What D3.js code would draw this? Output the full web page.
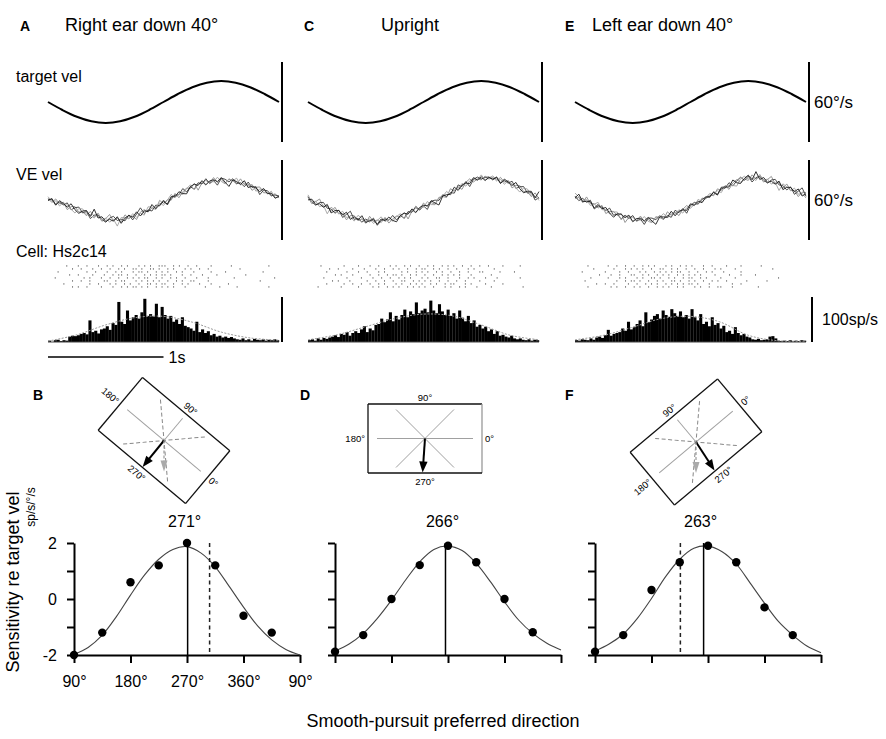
<!DOCTYPE html>
<html>
<head>
<meta charset="utf-8">
<script src="https://d3js.org/d3.v7.min.js"></script>
<style>
  body { margin: 0; background: #fff; }
  text { font-family: "Liberation Sans", Arial, Helvetica, sans-serif; fill: #000; }
</style>
</head>
<body>
<svg id="fig" width="886" height="739"></svg>
<script>
// ---- data ----
const panelTitles = ["Right ear down 40°", "Upright", "Left ear down 40°"];
const topLetters = ["A", "C", "E"];
const bottomLetters = ["B", "D", "F"];

// stimulus / eye velocity (deg/s), sampled every 0.125 s over 2 s
const timeS = [0, 0.125, 0.25, 0.375, 0.5, 0.625, 0.75, 0.875, 1, 1.125, 1.25, 1.375, 1.5, 1.625, 1.75, 1.875, 2];
const targetVel = [0, -6, -11.1, -14.5, -15.7, -14.5, -11.1, -6, 0, 6, 11.1, 14.5, 15.7, 14.5, 11.1, 6, 0];
const eyeVelA = [0.5, -3, -7.5, -11.3, -14.5, -15, -12, -7.5, -2.3, 3.8, 10, 13.3, 15, 13.7, 10.5, 6.2, 2];
const eyeVelC = [0.8, -4, -9, -13, -15.5, -16, -14, -10, -5, 0, 6, 13, 16.5, 16, 12.5, 7, 1.3];
const eyeVelE = [2.5, -2, -7, -11.5, -14.5, -15, -13.5, -10, -5, 1, 7, 12.5, 16.5, 16, 12.5, 7.5, 3.8];

// trial-to-trial scatter of the individual eye traces (deg/s), 1/30 s apart
const traceDev1 = [0.5,-0.8,1.2,-0.3,0.9,-1.5,0.4,1.1,-0.6,0.2, -1.0,1.4,-0.2,0.7,-1.3,0.3,2.1,-0.5,0.8,-0.9,
  1.6,-0.4,0.2,-1.8,0.6,1.0,-0.7,0.3,-1.1,1.9, -0.2,0.5,-0.6,1.3,-1.4,0.1,0.8,-0.3,1.1,-2.2,
  0.4,0.9,-0.5,1.5,-0.8,0.2,-1.2,0.7,0.3,-0.9, 1.8,-0.1,0.6,-1.5,0.4,1.2,-0.6,0.1,-0.8,0.9, -0.3];
const traceDev2 = [-0.6,0.9,-1.1,0.4,-0.2,1.3,-0.9,0.6,1.5,-0.4, 0.8,-1.6,0.3,1.0,-0.5,-1.2,0.6,1.4,-0.3,0.2,
  -0.9,1.1,-1.4,0.5,2.4,-0.6,0.2,-1.0,0.7,-0.4, 1.2,-1.7,0.3,0.6,-0.2,1.5,-0.8,0.4,-1.3,0.9,
  -0.1,1.6,-0.7,0.3,-1.9,0.8,0.5,-0.4,1.1,-0.6, 0.2,-1.0,1.4,-0.3,0.7,-2.0,0.5,0.9,-0.4,0.3, 0.6];
const traceDev3 = [1.1,-0.3,0.4,-1.2,0.8,0.2,-0.7,-1.6,0.9,1.3, -0.4,0.1,-0.9,1.7,-0.6,0.5,-1.1,0.2,-2.6,0.9,
  0.4,-0.5,1.2,-0.8,0.1,-1.3,1.5,0.6,-0.2,0.8, -1.0,0.3,1.8,-0.5,0.2,-0.9,0.6,1.2,-1.5,0.4,
  0.7,-1.1,0.2,-0.3,1.4,-0.6,-1.4,0.9,0.3,1.6, -0.8,0.4,-0.2,1.0,-1.2,0.3,0.8,-0.5,1.3,-0.7, 0.2];
const traceDev4 = [-0.2,0.6,-1.4,1.0,0.3,-0.5,1.6,-0.2,-1.1,0.4, 1.2,-0.7,2.8,-0.4,0.6,-0.9,0.1,-0.6,1.3,-1.5,
  0.2,0.9,-0.3,1.4,-1.0,0.5,-0.5,1.7,-0.8,0.1, 0.6,-1.3,0.9,-0.1,1.1,-0.6,-1.6,0.5,0.8,-0.2,
  1.3,-0.9,0.4,0.6,-0.4,1.0,-0.7,-2.3,0.6,0.2, -0.5,1.5,-0.9,0.3,0.1,-0.8,1.2,-0.3,0.5,-1.0, 0.4];

// firing-rate histograms (sp/s), 80 bins of 25 ms
const histA = [3,0,4,5,2,4,3, 12,14,13,15,18, 20,17,48,22,25,19,28, 30,35,27,42,38,89,45,40,70,
  48,55,60,52,66,96,58,62,57,85,55,78,60,52, 58,45,50,40,55,36,33, 30,25,45,22,28,20,24,
  15,18,12,14,10,12,9,11,8, 6,5,8,4,6,3,7,5,4,6,3,5,4,6,4];
const histC = [4,6,3,8,5,9,7,10, 12,15,11,18,16,22,14,20, 24,20,28,35,22,30,26,38, 40,52,44,50,66,46,58,50,
  60,72,55,68,62,88,64,70, 74,66,92,70,64,84,68,60, 72,58,64,52,70,54,46,58, 42,48,34,38,30,34,24,28,
  18,24,14,16,12,10,14,8, 6,8,5,4,6,3,5,4];
const histE = [4,3,6,5,4,8,5,10, 12,9,15,27,14,18,20, 22,30,25,45,28,33, 40,48,35,66,44,50,
  58,62,52,70,60,56,73,64,58,68,55, 60,52,73,55,48,62, 40,45,35,55,38,42,30,36,
  22,25,18,33,20,15,18,12,10, 6,5,7,4,5,6, 12,13,8,3, 2,3,2,4,2,3,2,4,3];

// smooth rate fit (sp/s) every 0.25 s
const fitT = [0, 0.25, 0.5, 0.75, 1, 1.25, 1.5, 1.75, 2];
const fitRateA = [2, 16, 38, 54, 57, 44, 22, 9, 4];
const fitRateC = [5, 16, 34, 52, 62, 58, 38, 15, 5];
const fitRateE = [5, 15, 33, 52, 57, 45, 15, 3, 2];

// spike rasters: one string per trial, one character per 25 ms bin
const rasterA = [
  "......x... x..x...x.. x.x..x.x.. .x.x.x..xx x..x.x..x. .x....x... ...x...... ......x...",
  "........x. .x...x..x. .x..x.x..x x.x..xx.x. .x.x...x.x ..x..x.... ......x... ..........",
  "...x...... ...x..x... x..x.x...x .xx.x..x.x .x..x.x... x.....x... .x........ ....x.....",
  ".......x.. x....x...x ..x.xx.x.. x..x.x.x.x x.x...x..x ...x....x. ........x. ..........",
  "..x....... ..x.x...x. .x..x..x.x .x.xx..x.x ..x.x..x.. .x...x.... ....x..... ........x.",
  "........x. .x..x....x x..x.xx... x.x.x.x.x. .x..x.x..x x....x.... .......... ...x......",
  ".....x.... ....x..x.. .x.x..x.x. .x..xx.x.x x..x..x.x. ..x...x... ..x....... ..........",
  "........x. x..x....x. ..x..x.x.x x.x.x..x.x .x.x...x.. ....x....x .....x.... ......x..."];
const rasterC = [
  "....x..... ..x....x.. .x..x...x. x..x.x..x. .x.x..x.x. x..x..x..x ..x....x.. ...x......",
  ".......x.. x....x...x ...x..x..x .x..x..x.x x..x.x..x. .x...x.x.. ....x..... ..........",
  "......x... ...x...x.. x...x.x... ..x.x..x.x .x..x.x..x ..x..x...x x.....x... .x........",
  ".........x .x...x.... .x..x..x.x x.x..x.x.. x..x..x.x. x.x...x... ...x...... ..........",
  ".....x.... ...x....x. ..x..x..x. .x.x.x...x .x..xx..x. ..x..x.x.. .x...x.... ...x......",
  "........x. x...x..... x..x..x..x ..xx..x.x. x.x..x..x. .x..x....x ....x..... ..........",
  "......x... ..x..x..x. .x..x.x... x.x..x.x.x ..x.x..x.x x...x.x... .x.....x.. ..........",
  "...x...... .x.....x.. ..x.x..x.x .x..x.x.x. x..x...x.x ..x.x...x. ...x...... ....x....."];
const rasterE = [
  "....x..... .x..x..x.. x..x.x.x.. .x.x..x.x. x...x..x.. ..x....x.. ....x..... ..........",
  "......x... ...x...x.x .x.x..x..x x..x.x..x. .x..x...x. x....x.... ........x. ..........",
  "..x....... x....x..x. ..x.x..x.x .x.x.xx..x ..x..x.x.. .x.....x.. .......... ..........",
  "........x. ..x..x...x x..x.x..x. x.x..x.x.x .x.x....x. ...x...x.. ..x....... ..........",
  ".....x.... .x...x.x.. .x.x..xx.x ..x.x..x.x x..x.x.... x....x.... .......... x.........",
  "...x...... ....x..x.x x.x..x..x. x..xx.x..x .x..x..x.x ..x......x ......x... ..........",
  ".......x.. x..x....x. .x..x.x.x. .x.x.x.x.x x.x...x... ....x..x.. .......... ..........",
  "....x..... ..x.x..x.. x.x..x..x. x.x..x.x.. .x.x..x..x x...x..... ...x...... .........."];

// tuning: sensitivity re target velocity (sp/s per deg/s) vs direction
const pointDir = [90, 135, 180, 225, 270, 315, 360, 405];
const sensB = [-2, -1.2, 0.6, 1.2, 2.0, 1.2, -0.6, -1.2];
const sensD = [-1.88, -1.29, 0.0, 1.21, 1.9, 1.31, 0.0, -1.19];
const sensF = [-1.88, -1.29, 0.32, 1.31, 1.9, 1.31, -0.3, -1.29];
const fitDir = [90, 112.5, 135, 157.5, 180, 202.5, 225, 247.5, 270, 292.5, 315, 337.5, 360, 382.5, 405, 427.5, 450];
const fitB = [-1.98, -1.73, -1.29, -0.63, 0.14, 0.86, 1.42, 1.77, 1.87, 1.64, 1.15, 0.44, -0.29, -0.96, -1.46, -1.8, -2.0];
const fitD = [-1.86, -1.61, -1.23, -0.69, -0.04, 0.68, 1.33, 1.77, 1.89, 1.73, 1.27, 0.62, -0.1, -0.75, -1.23, -1.58, -1.82];
const fitF = [-1.86, -1.61, -1.25, -0.69, 0.02, 0.8, 1.42, 1.81, 1.89, 1.69, 1.25, 0.56, -0.15, -0.81, -1.29, -1.68, -1.92];
const prefDir = [271, 266, 263];
const uprightPrefShifted = [306, null, 226];
const headTilt = [40, 0, -40];
const dirTicks = [90, 180, 270, 360, 450];
const sensTicks = [-2, -1, 0, 1, 2];

// ---- drawing ----
const svg = d3.select("#fig");
const FONT = "'Liberation Sans', Arial, Helvetica, sans-serif";
const eyeVel = [eyeVelA, eyeVelC, eyeVelE];
const traceDev = [traceDev1, traceDev2, traceDev3, traceDev4];
const traceColor = ["#8a8a8a", "#3a3a3a", "#a0a0a0", "#1a1a1a"];
const devGain = 1.8; // visual spread of the overlaid trials
const hist = [histA, histC, histE];
const fitRate = [fitRateA, fitRateC, fitRateE];
const raster = [rasterA, rasterC, rasterE];
const sens = [sensB, sensD, sensF];
const fits = [fitB, fitD, fitF];

function txt(x, y, s, size, opts = {}) {
  const t = svg.append("text").attr("x", x).attr("y", y).attr("font-size", size).text(s);
  if (opts.anchor) t.attr("text-anchor", opts.anchor);
  if (opts.bold) t.attr("font-weight", "bold");
  return t;
}

const colX = [48, 308, 575];
const colW = 231;
const titleX = [65, 381, 592];
const letterX = [20, 304, 565];

const yTarget = d3.scaleLinear().domain([-30, 30]).range([142, 62]);
const yEye = d3.scaleLinear().domain([-30, 30]).range([240, 160]);
const yHist = d3.scaleLinear().domain([0, 100]).range([342, 297]);
const tGrid = d3.range(61).map(j => j / 30);
const binW = 0.025;

txt(16, 82, "target vel", 16);
txt(16, 180, "VE vel", 16);
txt(16, 257, "Cell: Hs2c14", 16);

for (let c = 0; c < 3; c++) {
  txt(letterX[c], 31, topLetters[c], 14, { bold: true });
  txt(titleX[c], 31, panelTitles[c], 18);

  const x = d3.scaleLinear().domain([0, 2]).range([colX[c], colX[c] + colW]);
  const barX = colX[c] + colW + 3;

  // target velocity
  svg.append("path")
    .attr("d", d3.line().x(d => x(d[0])).y(d => yTarget(d[1])).curve(d3.curveCatmullRom)(d3.zip(timeS, targetVel)))
    .attr("fill", "none").attr("stroke", "#000").attr("stroke-width", 2);
  svg.append("line").attr("x1", barX).attr("x2", barX)
    .attr("y1", yTarget(-30)).attr("y2", yTarget(30)).attr("stroke", "#000").attr("stroke-width", 2);

  // eye velocity traces
  const mean = d3.scaleLinear().domain(timeS).range(eyeVel[c]);
  traceDev.forEach((dev, k) => {
    const pts = tGrid.map((t, j) => [t, mean(t) + devGain * dev[(j + c * 13) % dev.length]]);
    svg.append("path")
      .attr("d", d3.line().x(d => x(d[0])).y(d => yEye(d[1]))(pts))
      .attr("fill", "none").attr("stroke", traceColor[k]).attr("stroke-width", 0.9);
  });
  svg.append("line").attr("x1", barX).attr("x2", barX)
    .attr("y1", yEye(-30)).attr("y2", yEye(30)).attr("stroke", "#000").attr("stroke-width", 2);

  // raster
  raster[c].forEach((rowStr, r) => {
    const row = rowStr.replace(/ /g, "");
    for (let i = 0; i < row.length; i++) {
      if (row[i] !== "x") continue;
      const xx = x(i * binW + binW / 2);
      svg.append("line").attr("x1", xx).attr("x2", xx)
        .attr("y1", 265 + 3 * r).attr("y2", 266.8 + 3 * r)
        .attr("stroke", "#7a7a7a").attr("stroke-width", 0.9);
    }
  });

  // histogram
  svg.append("g").selectAll("rect").data(hist[c]).join("rect")
    .attr("x", (d, i) => x(i * binW))
    .attr("width", x(binW) - x(0) + 0.2)
    .attr("y", d => yHist(d))
    .attr("height", d => yHist(0) - yHist(d))
    .attr("fill", "#000");
  svg.append("line").attr("x1", x(0)).attr("x2", x(2)).attr("y1", yHist(0)).attr("y2", yHist(0))
    .attr("stroke", "#444").attr("stroke-width", 1);
  svg.append("path")
    .attr("d", d3.line().x(d => x(d[0])).y(d => yHist(d[1])).curve(d3.curveCatmullRom)(d3.zip(fitT, fitRate[c])))
    .attr("fill", "none").attr("stroke", "#999").attr("stroke-width", 1).attr("stroke-dasharray", "2,1.5");
  if (c !== 1) {
    const hb = c === 2 ? colX[c] + colW + 6 : barX;
    svg.append("line").attr("x1", hb).attr("x2", hb)
      .attr("y1", yHist(0)).attr("y2", yHist(100)).attr("stroke", "#000").attr("stroke-width", 2);
  }

  if (c === 0) {
    svg.append("line").attr("x1", x(0)).attr("x2", x(1)).attr("y1", 357).attr("y2", 357)
      .attr("stroke", "#000").attr("stroke-width", 1.5);
    txt(x(1) + 5, 363, "1s", 16);
  }
}
txt(814, 108, "60°/s", 17);
txt(814, 206, "60°/s", 17);
txt(822, 325, "100sp/s", 16);

// ---- orientation diagrams ----
const frameC = [[164, 440.5], [425, 438.5], [696, 442]];
const bLetterX = [33, 300, 565];

function arrowHead(g, tx, ty, dx, dy, len, half, fill) {
  const bx = tx - dx * len, by = ty - dy * len;
  const px = -dy * half, py = dx * half;
  g.append("path")
    .attr("d", `M${tx},${ty}L${bx + px},${by + py}L${bx - px},${by - py}Z`)
    .attr("fill", fill);
}

for (let c = 0; c < 3; c++) {
  txt(bLetterX[c], 400, bottomLetters[c], 14, { bold: true });
  const tilted = headTilt[c] !== 0;
  const g = svg.append("g").attr("transform", `translate(${frameC[c][0]},${frameC[c][1]})`);
  const f = g.append("g").attr("transform", `rotate(${headTilt[c]})`);
  const hw = 57, hh = 34.5;

  // inner reference lines
  f.append("line").attr("x1", -48).attr("x2", 48).attr("y1", 0).attr("y2", 0)
    .attr("stroke", "#a0a0a0").attr("stroke-width", 1);
  [45, -45].forEach(a => {
    const r = a * Math.PI / 180, L = 41;
    f.append("line")
      .attr("x1", -L * Math.cos(r)).attr("y1", -L * Math.sin(r))
      .attr("x2", L * Math.cos(r)).attr("y2", L * Math.sin(r))
      .attr("stroke", tilted ? "#888" : "#a0a0a0").attr("stroke-width", 1)
      .attr("stroke-dasharray", tilted ? "4,2.5" : null);
  });
  if (tilted) {
    f.append("line").attr("x1", 0).attr("y1", 0).attr("x2", 0).attr("y2", -29)
      .attr("stroke", "#a0a0a0").attr("stroke-width", 1);
    // earth-vertical reference arrow
    g.append("line").attr("x1", 0).attr("y1", 0).attr("x2", 0).attr("y2", 22)
      .attr("stroke", "#999").attr("stroke-width", 1.2).attr("stroke-dasharray", "3,2");
    arrowHead(g, 0, 31, 0, 1, 11, 3.5, "#aaa");
  }

  // frame
  const corners = [[-hw, -hh], [hw, -hh], [hw, hh], [-hw, hh]];
  corners.forEach((p, i) => {
    const q = corners[(i + 1) % 4];
    f.append("line").attr("x1", p[0]).attr("y1", p[1]).attr("x2", q[0]).attr("y2", q[1])
      .attr("stroke", (!tilted && i === 1) ? "#999" : "#111").attr("stroke-width", 1.3);
  });

  // labels
  const lab = (x, y, s, anchor) => f.append("text").attr("x", x).attr("y", y).attr("font-size", 9.5)
    .attr("text-anchor", anchor).attr("fill", "#222").text(s);
  lab(0, -38, "90°", "middle");
  lab(0, 46, "270°", "middle");
  lab(-60, 3.5, "180°", "end");
  lab(60, 3.5, "0°", "start");

  // preferred-direction arrow
  const th = prefDir[c] * Math.PI / 180;
  const dx = Math.cos(th), dy = -Math.sin(th), L = 34;
  f.append("line").attr("x1", 0).attr("y1", 0).attr("x2", dx * (L - 8)).attr("y2", dy * (L - 8))
    .attr("stroke", "#000").attr("stroke-width", 2);
  arrowHead(f, dx * L, dy * L, dx, dy, 11, 4.2, "#000");
}

// ---- tuning curves ----
const plotX0 = [74, 335, 595];
const plotW = 226;
const ySens = d3.scaleLinear().domain([-2, 2]).range([655, 543]);

for (let c = 0; c < 3; c++) {
  const xs = d3.scaleLinear().domain([90, 450]).range([plotX0[c], plotX0[c] + plotW]);

  const ax = svg.append("g").attr("transform", `translate(${plotX0[c]},0)`)
    .call(d3.axisLeft(ySens).tickValues(sensTicks).tickSize(7).tickSizeOuter(0).tickPadding(10)
      .tickFormat(d => (c === 0 && d % 2 === 0) ? (d < 0 ? "-" + (-d) : String(d)) : ""));
  const bx = svg.append("g").attr("transform", "translate(0,655)")
    .call(d3.axisBottom(xs).tickValues(dirTicks).tickSize(8).tickSizeOuter(0).tickPadding(13)
      .tickFormat(d => c === 0 ? (d === 360 ? 360 : d % 360) + "°" : ""));
  [ax, bx].forEach(a => {
    a.selectAll("path, line").attr("stroke", "#000").attr("stroke-width", 2);
    a.selectAll("text").attr("font-size", 16).attr("font-family", FONT).attr("fill", "#000");
  });

  svg.append("path")
    .attr("d", d3.line().x(d => xs(d[0])).y(d => ySens(d[1])).curve(d3.curveCatmullRom)(d3.zip(fitDir, fits[c])))
    .attr("fill", "none").attr("stroke", "#444").attr("stroke-width", 1.1);

  svg.append("line").attr("x1", xs(prefDir[c])).attr("x2", xs(prefDir[c]))
    .attr("y1", ySens(2)).attr("y2", ySens(-2)).attr("stroke", "#000").attr("stroke-width", 1.5);
  if (uprightPrefShifted[c] !== null) {
    svg.append("line").attr("x1", xs(uprightPrefShifted[c])).attr("x2", xs(uprightPrefShifted[c]))
      .attr("y1", ySens(2)).attr("y2", ySens(-2)).attr("stroke", "#222").attr("stroke-width", 1.5)
      .attr("stroke-dasharray", "4,3.5");
  }

  svg.append("g").selectAll("circle").data(d3.zip(pointDir, sens[c])).join("circle")
    .attr("cx", d => xs(d[0])).attr("cy", d => ySens(d[1])).attr("r", 4.2).attr("fill", "#000");

  txt(xs(prefDir[c]) - 3, 527, prefDir[c] + "°", 16, { anchor: "middle" });
}

svg.append("text").attr("transform", "translate(19,582) rotate(-90)")
  .attr("text-anchor", "middle").attr("font-size", 18).text("Sensitivity re target vel");
svg.append("text").attr("transform", "translate(35,507) rotate(-90)")
  .attr("text-anchor", "middle").attr("font-size", 12).text("sp/s/°/s");
txt(443, 727, "Smooth-pursuit preferred direction", 18, { anchor: "middle" });
</script>
</body>
</html>
